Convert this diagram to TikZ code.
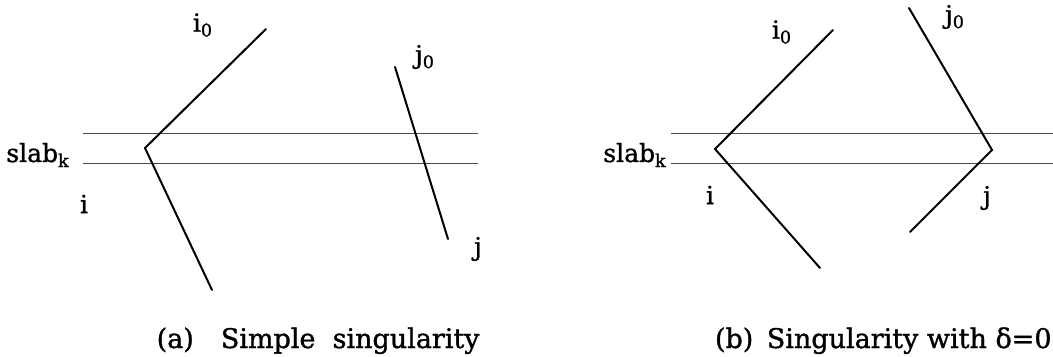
\documentclass[tikz,border=0pt]{standalone}
\usepackage{fontspec}
\setmainfont{DejaVu Serif}
\newfontfamily\figfont{DejaVu Serif}[FakeBold=1.2]
\usepackage{tikz}
\usetikzlibrary{positioning, calc}
\tikzset{
  slabline/.style={draw=black!70, line width=0.5pt},
  seg/.style={draw=black, line width=1pt, line cap=round},
  lbl/.style={inner sep=0pt, font=\figfont\fontsize{12.5}{14}\selectfont},
  caption/.style={inner sep=0pt, anchor=base east, font=\figfont\fontsize{13.5}{16}\selectfont},
}
\begin{document}
\begin{tikzpicture}[x=0.5pt, y=-0.5pt]
\useasboundingbox (0,0) rectangle (1053,357);
% (a) simple singularity
\coordinate (aL1) at (83,134);  \coordinate (aR1) at (478,134);
\coordinate (aL2) at (83,164);  \coordinate (aR2) at (478,164);
\draw[slabline] (aL1) -- (aR1);
\draw[slabline] (aL2) -- (aR2);
\coordinate (ai0) at (266,29);
\coordinate (ai) at (145,148);
\coordinate (aiend) at (212,290);
\coordinate (aj0) at (395,67);
\coordinate (aj) at (448,239);
\draw[seg] (ai0) -- (ai) -- (aiend);
\draw[seg] (aj0) -- (aj);
\node[lbl] (aslab) at (38,155) {slab\textsubscript{k}};
\node[lbl] (ai0lbl) at (203,25) {i\textsubscript{0}};
\node[lbl] (ailbl) at (84,204) {i};
\node[lbl] (aj0lbl) at (425,57) {j\textsubscript{0}};
\node[lbl] (ajlbl) at (478,249) {j};
\node[caption] (acap) at (480,348) {(a)\quad Simple\ \ singularity};
% (b) singularity with delta=0
\coordinate (bL1) at (671,134); \coordinate (bR1) at (1053,134);
\coordinate (bL2) at (671,164); \coordinate (bR2) at (1053,164);
\draw[slabline] (bL1) -- (bR1);
\draw[slabline] (bL2) -- (bR2);
\coordinate (bi0) at (833,30);
\coordinate (bi) at (715,149);
\coordinate (biend) at (820,268);
\coordinate (bj0) at (909,8);
\coordinate (bj) at (992,150);
\coordinate (bjend) at (910,232);
\draw[seg] (bi0) -- (bi) -- (biend);
\draw[seg] (bj0) -- (bj) -- (bjend);
\node[lbl] (bslab) at (635,155) {slab\textsubscript{k}};
\node[lbl] (bi0lbl) at (782,32) {i\textsubscript{0}};
\node[lbl] (bilbl) at (710,195) {i};
\node[lbl] (bj0lbl) at (955,17) {j\textsubscript{0}};
\node[lbl] (bjlbl) at (987,198) {j};
\node[caption] (bcap) at (1052,348) {(b)\enskip Singularity with δ=0};
\end{tikzpicture}
\end{document}
